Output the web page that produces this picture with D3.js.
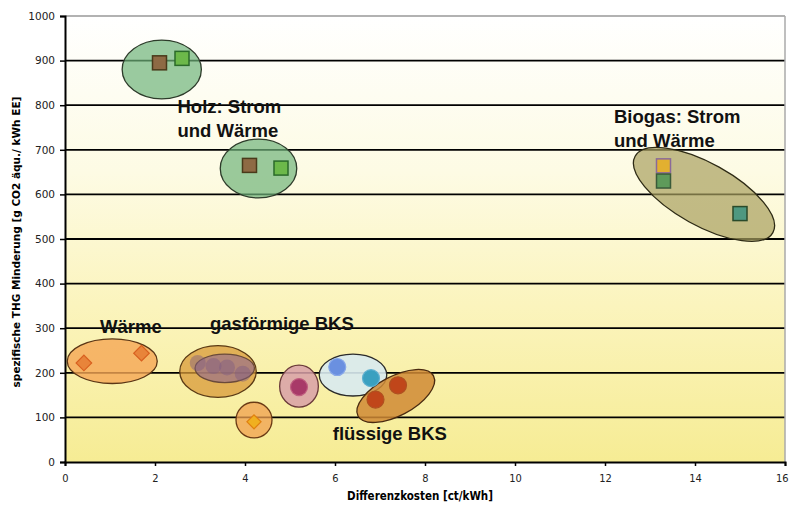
<!DOCTYPE html>
<html><head><meta charset="utf-8">
<script src="https://cdn.jsdelivr.net/npm/d3@7"></script>
<style>body{margin:0;background:#fff}svg{display:block}</style>
</head><body>
<svg id="c" width="790" height="505"></svg>
<script>
// ---- data ----
const xTicks = [0,2,4,6,8,10,12,14,16];
const yTicks = [0,100,200,300,400,500,600,700,800,900,1000];
// cluster ellipses: [cx, cy, rx(ct), ry(g), rotation deg]
const holzEllipses = [[2.15, 880, 0.88, 66, 0],[4.3, 658, 0.85, 66, 0]];
const biogasEllipse = [[14.2, 600, 1.75, 70, 29]];
const waermeEllipse = [[1.05, 226, 1.0, 50, 0]];
const gasEllipse = [[3.4, 203, 0.85, 58, 0]];
const gasInner = [[3.55, 210, 0.66, 32, 0]];
const holzPelletEllipse = [[4.2, 94, 0.4, 40, 0]];
const pinkEllipse = [[5.2, 170, 0.43, 47, 0]];
const blueEllipse = [[6.4, 195, 0.75, 47, 0]];
const fluessigEllipse = [[7.35, 148, 0.95, 44, -28]];
// points
const holzBrown = [[2.1, 895],[4.1, 665]];
const holzGreen = [[2.6, 905],[4.8, 659]];
const biogasOrange = [[13.3, 664]];
const biogasGreen = [[13.3, 630]];
const biogasTeal = [[15.0, 557]];
const waermePoints = [[0.42, 222],[1.7, 244]];
const gasPoints = [[2.95, 222],[3.3, 215],[3.6, 212],[3.95, 198]];
const pelletPoint = [[4.2, 90]];
const pinkPoint = [[5.2, 168]];
const bluePoints = [[6.05, 213],[6.8, 188]];
const redPoints = [[6.9, 140],[7.4, 172]];
const labels = [
  {t:["Holz: Strom","und Wärme"], x:2.5, y:782},
  {t:["Biogas: Strom","und Wärme"], x:12.2, y:760},
  {t:["Wärme"], x:0.78, y:289},
  {t:["gasförmige BKS"], x:3.22, y:297},
  {t:["flüssige BKS"], x:5.95, y:50}
];

const svg = d3.select("#c");
const m = {l:65, r:785, t:16, b:462};
const x = d3.scaleLinear().domain([0,16]).range([m.l, m.r]);
const y = d3.scaleLinear().domain([0,1000]).range([m.b, m.t]);

const defs = svg.append("defs");
const g = defs.append("linearGradient").attr("id","bg").attr("x1",0).attr("x2",0).attr("y1",0).attr("y2",1);
g.append("stop").attr("offset","0%").attr("stop-color","#ffffff");
g.append("stop").attr("offset","35%").attr("stop-color","#fdfbe4");
g.append("stop").attr("offset","65%").attr("stop-color","#fbf4bd");
g.append("stop").attr("offset","100%").attr("stop-color","#f6ec94");

svg.append("rect").attr("x",m.l).attr("y",m.t).attr("width",m.r-m.l).attr("height",m.b-m.t).attr("fill","url(#bg)");

// grid
svg.append("g").selectAll("line").data(yTicks.filter(d=>d>0)).join("line")
  .attr("x1",m.l).attr("x2",m.r).attr("y1",d=>y(d)).attr("y2",d=>y(d))
  .attr("stroke",d=>d===1000?"#999":"#000").attr("stroke-width",d=>d===1000?1.5:1.8);
svg.append("line").attr("x1",m.r).attr("x2",m.r).attr("y1",m.t).attr("y2",m.b).attr("stroke","#aaa").attr("stroke-width",1.5);

// axes
const yAxis = d3.axisLeft(y).tickValues(yTicks).tickFormat(d3.format("d")).tickSize(5).tickPadding(5);
const ya = svg.append("g").attr("transform",`translate(${m.l},0)`).call(yAxis);
const xAxis = d3.axisBottom(x).tickValues(xTicks).tickSize(4).tickPadding(8);
const xa = svg.append("g").attr("transform",`translate(0,${m.b})`).call(xAxis);
[ya,xa].forEach(a=>{
  a.select(".domain").attr("stroke","#000").attr("stroke-width",2);
  a.selectAll(".tick line").attr("stroke","#000").attr("stroke-width",1.5);
  a.selectAll("text").attr("font-family","DejaVu Sans, Verdana").attr("font-size",10.5).attr("fill","#222");
});
xa.selectAll("text").attr("font-family","DejaVu Sans Condensed, DejaVu Sans").attr("font-size",11)
  .attr("text-anchor",d=>d===16?"end":"middle").attr("dx",d=>d===16?3:0);

svg.append("text").attr("x",420).attr("y",500).attr("text-anchor","middle")
  .attr("font-family","DejaVu Sans Condensed, DejaVu Sans").attr("font-weight","bold").attr("font-size",11.5)
  .text("Differenzkosten [ct/kWh]");
svg.append("text").attr("transform",`translate(20,242) rotate(-90)`).attr("text-anchor","middle")
  .attr("font-family","DejaVu Sans, Verdana").attr("font-weight","bold").attr("font-size",10.5)
  .text("spezifische THG Minderung [g CO2 äqu./ kWh EE]");

const plot = svg.append("g");
function ellipses(data, fill, op, stroke){
  plot.append("g").selectAll("ellipse").data(data).join("ellipse")
    .attr("transform",d=>`translate(${x(d[0])},${y(d[1])}) rotate(${d[4]})`)
    .attr("rx",d=>x(d[2])-x(0)).attr("ry",d=>y(0)-y(d[3]))
    .attr("fill",fill).attr("fill-opacity",op).attr("stroke",stroke).attr("stroke-width",1.3);
}
function squares(data, fill, stroke, s=14){
  plot.append("g").selectAll("rect").data(data).join("rect")
    .attr("x",d=>x(d[0])-s/2).attr("y",d=>y(d[1])-s/2).attr("width",s).attr("height",s)
    .attr("fill",fill).attr("stroke",stroke).attr("stroke-width",1.5);
}
function diamonds(data, fill, stroke, s=10){
  plot.append("g").selectAll("rect").data(data).join("rect")
    .attr("transform",d=>`translate(${x(d[0])},${y(d[1])}) rotate(45)`)
    .attr("x",-s/2).attr("y",-s/2).attr("width",s).attr("height",s)
    .attr("fill",fill).attr("stroke",stroke).attr("stroke-width",1.2);
}
function circles(data, fill, stroke, r=8.5, op=1){
  plot.append("g").selectAll("circle").data(data).join("circle")
    .attr("cx",d=>x(d[0])).attr("cy",d=>y(d[1])).attr("r",r)
    .attr("fill",fill).attr("fill-opacity",op).attr("stroke",stroke).attr("stroke-width",1.2);
}

ellipses(holzEllipses, "#6fb37a", 0.7, "#2d3b2a");
ellipses(biogasEllipse, "#a8a060", 0.7, "#2d2a15");
ellipses(waermeEllipse, "#f5a655", 0.8, "#5a3515");
ellipses(gasEllipse, "#d89a3a", 0.75, "#5a3a15");
ellipses(gasInner, "#9a7088", 0.7, "#6a4a3a");
ellipses(holzPelletEllipse, "#f0a050", 0.75, "#6a3a15");
ellipses(pinkEllipse, "#d8a0a8", 0.85, "#6a3a3a");
ellipses(blueEllipse, "#d8eaf0", 0.9, "#2a2a2a");
ellipses(fluessigEllipse, "#d08a35", 0.85, "#4a2a10");

squares(holzBrown, "#8e6a44", "#4a3a1a");
squares(holzGreen, "#6cb84a", "#2a6a2a");
squares(biogasOrange, "#e2b030", "#8a6a9a");
squares(biogasGreen, "#5e9a5a", "#3a5a3a");
squares(biogasTeal, "#4e9880", "#2a4a2a");
diamonds(waermePoints, "#e8843a", "#d86020", 11);
circles(gasPoints, "#7e5a80", "none", 8, 0.45);
diamonds(pelletPoint, "#f0b020", "#e08010", 10);
circles(pinkPoint, "#a83a68", "#c06080", 8.5);
circles([bluePoints[0]], "#6a90e0", "#88a8e8", 8.5);
circles([bluePoints[1]], "#3aa0c0", "#60b0d0", 8.5);
circles(redPoints, "#c0461a", "#b05020", 8.5);

const lt = plot.append("g").selectAll("text").data(labels).join("text")
  .attr("x",d=>x(d.x)).attr("y",d=>y(d.y))
  .attr("font-family","Liberation Sans, Arial").attr("font-weight","bold").attr("font-size",18.5).attr("fill","#111");
lt.selectAll("tspan").data(d=>d.t.map((s,i)=>({s,i,x:d.x}))).join("tspan")
  .attr("x",d=>x(d.x)).attr("dy",d=>d.i?24:0).text(d=>d.s);
</script>
</body></html>
